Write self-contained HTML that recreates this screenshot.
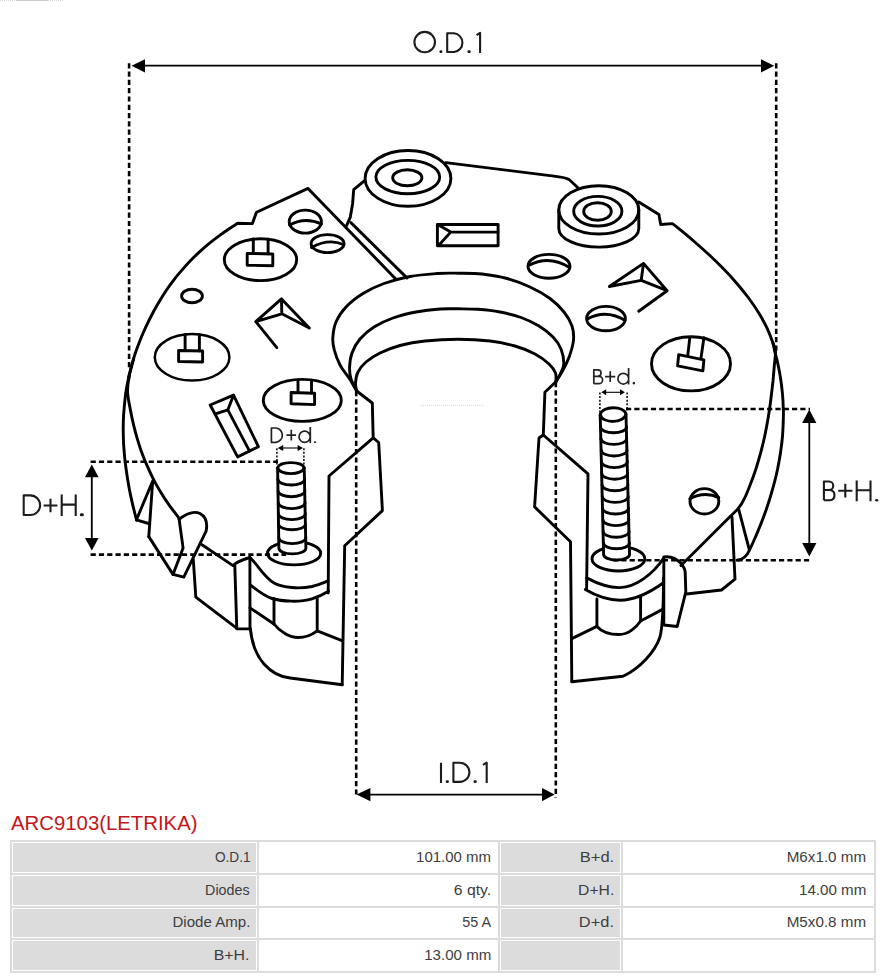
<!DOCTYPE html>
<html><head><meta charset="utf-8"><title>ARC9103(LETRIKA)</title>
<style>
html,body{margin:0;padding:0;background:#fff;}
body{width:890px;height:979px;position:relative;overflow:hidden;font-family:"Liberation Sans",sans-serif;}
svg.d{position:absolute;left:0;top:0;}
.t{position:absolute;left:11px;top:811px;margin:0;font-size:21px;font-weight:normal;color:#c3161c;line-height:24px;white-space:nowrap;transform-origin:0 0;transform:scaleX(0.9685);}
.tb{position:absolute;left:10px;top:840px;width:866px;height:133px;background:#dcdcdc;}
.c{position:absolute;box-sizing:border-box;border:1px solid #fff;}
.cl{background:#dcdcdc;}
.cv{background:#fff;}
.tx{position:absolute;font-size:14px;line-height:20px;height:20px;color:#3e3e3e;white-space:nowrap;transform-origin:100% 50%;}
.fx{position:absolute;left:0;top:0;width:64px;height:1px;background:repeating-linear-gradient(90deg,#d8d8d8 0 1px,#fff 1px 2px);}
.fx2{position:absolute;left:16px;top:0;width:32px;height:1px;background:#cfcac4;}
</style></head><body>
<div class="fx"></div><div class="fx2"></div>
<svg class="d" width="890" height="810" viewBox="0 0 890 810">
<g fill="none" stroke="#000" stroke-width="2.9" stroke-linejoin="round" stroke-linecap="round">
<polygon points="131.5,65.7 145,59.2 145,72.4" fill="#000" stroke="none"/>
<polygon points="774.2,65.7 761,59.2 761,72.4" fill="#000" stroke="none"/>
<polygon points="356.5,794.6 370.4,788 370.4,801.2" fill="#000" stroke="none"/>
<polygon points="554.6,794.6 542,788 542,801.2" fill="#000" stroke="none"/>
<polygon points="91.8,464.6 85,477.3 98.6,477.3" fill="#000" stroke="none"/>
<polygon points="91.8,550.6 85,537.9 98.6,537.9" fill="#000" stroke="none"/>
<polygon points="809.3,409.6 802.2,422.9 816.4,422.9" fill="#000" stroke="none"/>
<polygon points="809.3,556.4 802.2,543.1 816.4,543.1" fill="#000" stroke="none"/>
<polygon points="601.3,392.3 606.2,389.3 606.2,395.3" fill="#000" stroke="none"/>
<polygon points="624.9,392.3 620,389.3 620,395.3" fill="#000" stroke="none"/>
<polygon points="277.8,448 283.2,445 283.2,451" fill="#000" stroke="none"/>
<polygon points="303,448 297.6,445 297.6,451" fill="#000" stroke="none"/>
<path d="M128.6,380 C128.7,379.1 128.7,378 129.5,374.5 C130.3,371 132.1,363.8 133.5,359.1 C134.8,354.4 136.2,350.6 137.8,346.3 C139.4,342 141,337.9 142.9,333.5 C144.8,329.1 147.3,323.8 149.2,320 C151.1,316.2 152.5,313.5 154.1,310.5 C155.8,307.5 157.1,305.2 159,302 C160.9,298.8 163.4,294.8 165.7,291.3 C168.1,287.8 170.6,284.3 172.9,281.2 C175.2,278.1 176.5,276.3 179.5,272.9 C182.4,269.5 186.8,264.4 190.4,260.7 C194,257 197.6,253.6 200.9,250.6 C204.1,247.6 206.7,245.5 209.9,242.9 C213.1,240.3 216.8,237.5 220.1,235.1 C223.4,232.7 226.6,230.5 229.6,228.5 C232.5,226.5 236.4,224.2 237.7,223.3 L252.4,223.6 L256,213.4 L256.6,212.2 L308,188.4 L396.2,279.4"/>
<path d="M133.5,359.1 C132.8,361.7 130.4,370.2 129.3,374.5 C128.3,378.8 127.8,381.6 127.1,385 C126.5,388.4 126.1,390 125.5,395 C124.9,400 124,409.6 123.6,415.2 C123.2,420.8 123.2,424.2 123.2,428.7 C123.2,433.2 123.4,438.1 123.5,442 C123.7,445.9 123.8,447.9 124.2,452 C124.5,456.1 124.9,460.5 125.7,466.3 C126.5,472.1 127.8,480.7 128.9,486.8 C130,492.9 131.1,497.6 132.3,503.1 C133.6,508.6 135.8,517.1 136.5,519.9"/>
<path d="M129.4,374.5 C129.2,376.2 128.2,381.6 127.9,385 C127.6,388.4 127.3,390.5 127.8,395 C128.3,399.5 129.8,406.8 130.8,411.9 C131.7,416.9 132.6,420.8 133.7,425.3 C134.8,429.8 136,434.5 137.3,438.8 C138.6,443.1 139.9,447.2 141.2,451 C142.6,454.8 143.2,456.8 145.2,461.4 C147.2,466 150.5,473.4 153.1,478.6 C155.7,483.8 158.2,488 160.9,492.5 C163.6,497 166.4,501.2 169.5,505.6 C172.7,510 178.1,516.8 179.8,519"/>
<path d="M136.4,519.9 L152.7,481 L148.8,536.6"/>
<path d="M136.4,519.9 L148.6,523.5"/>
<path d="M148.8,536.6 L173,574.4 L183.8,577.1 L206.1,531.2 C207.5,524 206.5,517 200,513.5 C195,511 188,512.5 179.1,519.1"/>
<path d="M179.1,519.1 L183.1,548.1 L173,574.4"/>
<path d="M193.3,559.5 L195.8,597.1 L237.6,628.9 L250,628.9"/>
<path d="M202,544.7 L233,565.6 C235,563 240,560.5 249.9,557.5"/>
<path d="M234.8,565.6 L236.8,628.9"/>
<path d="M249.9,557.5 L250,628.9"/>
<path d="M249.9,557.5 C258,565 264,577 274,583 C283,588 300,589 312,586.5 C318,585 324,582.5 328,580.9"/>
<path d="M250.3,584.8 C258,591 264,596 272,598.5 C282,601.5 300,602.5 312,598.8 C319,596.5 324,594 328.5,591.2"/>
<path d="M250,607.9 L274,624"/>
<path d="M274,598.5 L274,624"/>
<path d="M317.2,598.5 L317.2,630.8"/>
<path d="M274,624 C280,632 290,637.5 298,637.5 C306,637.5 313,634 317.2,630.8"/>
<path d="M317.2,630.8 L342,640.6"/>
<path d="M250.3,628.5 C252,645 256,655 264,664 C271,672 280,677 290.2,678 L342.2,684.7"/>
<path d="M342.2,684.7 L344.7,545.8 L382.4,510.6 L378.7,442.5 L373.2,437.9 L372.3,403 L356.7,391"/>
<path d="M373.2,437.9 L329,476 L328.2,593"/>
<ellipse cx="294.1" cy="553.3" rx="26.6" ry="11.6"/>
<path fill="#fff" stroke="none" d="M277.6,467.6 L278.9,548.3 A13.5,5.6 0 0 0 305.9,548.3 L304.2,467.6 Z"/>
<path d="M277.6,467.6 L278.9,548.3 A13.5,5.6 0 0 0 305.9,548.3 L304.2,467.6"/>
<path d="M277.6,467.8 C279.5,460.9 302.3,460.9 304.2,467.8 C302.3,475.5 279.5,475.5 277.6,467.8"/>
<path d="M277.9,479.2 A13.3,5.8 0 0 0 304.6,479.2"/>
<path d="M278.1,491.4 A13.4,5.8 0 0 0 304.8,491.4"/>
<path d="M278.3,502.8 A13.4,5.8 0 0 0 305.1,502.8"/>
<path d="M278.4,513.8 A13.4,5.8 0 0 0 305.3,513.8"/>
<path d="M278.6,524.5 A13.5,5.8 0 0 0 305.5,524.5"/>
<path d="M278.8,537.8 A13.5,5.8 0 0 0 305.8,537.8"/>
<path d="M356.7,391 C355.4,388.8 351.8,382.3 349,378 C346.2,373.7 342.4,369.7 340,365 C337.6,360.3 335.5,354.5 334.3,350 C333.1,345.5 332.5,342.7 332.8,338 C333.1,333.3 333.8,327.2 336,322 C338.2,316.8 341.5,311.8 346,307 C350.5,302.2 356.7,297.4 363,293.5 C369.3,289.6 376.2,286.3 384,283.5 C391.8,280.7 401.2,278.2 410,276.5 C418.8,274.8 428.9,274.1 437,273.5 C445.1,272.9 450.9,273.1 458.4,273.2 C465.9,273.3 473.9,273.1 482,274 C490.1,274.9 499,276.3 507,278.5 C515,280.7 522.8,283.7 530,287 C537.2,290.3 544.3,294.3 550,298.5 C555.7,302.7 560.3,307.4 564,312 C567.7,316.6 570.4,321.3 572,326 C573.6,330.7 573.9,335 573.5,340 C573.1,345 571.2,351 569.5,356 C567.8,361 565.3,365.7 563,370 C560.7,374.3 557.1,379.8 555.9,381.7"/>
<path d="M356.7,391 C355.8,389 352.2,383 351,379 C349.8,375 349.4,371.3 349.6,367 C349.8,362.7 350.3,357.7 352,353 C353.7,348.3 356.3,343.3 360,339 C363.7,334.7 368.5,330.5 374,327 C379.5,323.5 386,320.5 393,318 C400,315.5 408.2,313.5 416,312 C423.8,310.5 433,309.5 440,309 C447,308.5 451.7,308.8 458,308.8 C464.3,308.9 471,308.8 478,309.3 C485,309.8 492.8,310.6 500,312 C507.2,313.4 514.5,315.2 521,317.5 C527.5,319.8 533.7,322.8 539,326 C544.3,329.2 549.3,333.2 553,337 C556.7,340.8 559.2,344.5 561,349 C562.8,353.5 563.9,359.7 563.8,363.8 C563.7,367.9 561.8,370.5 560.5,373.5 C559.2,376.5 556.7,380.3 555.9,381.7"/>
<path d="M356.7,391 C356.5,389.7 355.3,386.2 355.5,383 C355.7,379.8 356.2,375.5 358,372 C359.8,368.5 362.3,365.2 366,362 C369.7,358.8 374.3,355.8 380,353 C385.7,350.2 392.5,347.5 400,345.5 C407.5,343.5 415.3,342 425,341 C434.7,340 447.2,339.3 458,339.3 C468.8,339.3 480.5,339.9 490,341 C499.5,342.1 507.5,343.8 515,346 C522.5,348.2 529.3,351 535,354 C540.7,357 545.6,360.8 549,364 C552.4,367.2 554.4,370.1 555.5,373 C556.6,375.9 555.8,380.2 555.9,381.7"/>
<path d="M555.9,381.7 L544.9,392.3 L543.3,435 L539,438 L534.6,506.9 L570.5,541.8 L571.8,681.7"/>
<path d="M543.3,435 L588,473.9 L586.6,588.7"/>
<path d="M571.8,681.7 L623,676.3 C640,668 655,652 660,637 C663,625 663.5,600 663.5,577.9"/>
<path d="M586.6,577.9 C598,584 610,587.8 620,587.6 C636,587.3 653,574 663.8,558"/>
<path d="M585.3,589.6 C597,596.5 609,600.2 620,600.2 C637,600.2 652,591 663.8,582.5"/>
<path d="M596.9,598.9 L596.9,626.4"/>
<path d="M640.6,596.8 L640.6,621"/>
<path d="M596.9,626.4 C602,632 610,634.5 619,634.5 C628,634.5 636,628 640.6,621"/>
<path d="M640.6,621 L663.5,608.9"/>
<path d="M571.8,638.6 L596.9,626.4"/>
<path d="M663.8,625 L663.8,557 C668,556.4 675,557 681.1,563.6 C683,566 685,568.5 685.2,572 L685.8,591.9 L677.2,626.5 L663.8,625"/>
<path d="M686.4,594 L721.5,590 L735,579.2 L732,517.3"/>
<path d="M738.5,508.7 L749.3,549.7"/>
<ellipse cx="618.4" cy="558.8" rx="26.4" ry="12.2"/>
<path fill="#fff" stroke="none" d="M600.2,414.7 L603.6,554.4 A12.95,5.6 0 0 0 629.5,554.4 L626,414.7 Z"/>
<path d="M600.2,414.7 L603.6,554.4 A12.95,5.6 0 0 0 629.5,554.4 L626,414.7"/>
<path d="M600.2,414.6 C602,405.5 624.2,405.5 626,414 C624.2,423.8 602,423.8 600.2,414.6"/>
<path d="M600.6,427 A12.9,5.8 0 0 0 626.5,427"/>
<path d="M600.9,438.6 A12.9,5.8 0 0 0 626.7,438.6"/>
<path d="M601.2,450.2 A12.9,5.8 0 0 0 627,450.2"/>
<path d="M601.5,461.8 A12.9,5.8 0 0 0 627.3,461.8"/>
<path d="M601.8,473.4 A12.9,5.8 0 0 0 627.6,473.4"/>
<path d="M602.1,485 A12.9,5.8 0 0 0 627.9,485"/>
<path d="M602.3,496.6 A12.9,5.8 0 0 0 628.2,496.6"/>
<path d="M602.6,508.2 A12.9,5.8 0 0 0 628.5,508.2"/>
<path d="M602.9,519.8 A12.9,5.8 0 0 0 628.8,519.8"/>
<path d="M603.2,531.4 A12.9,5.8 0 0 0 629.1,531.4"/>
<path d="M603.5,543 A12.9,5.8 0 0 0 629.4,543"/>
<ellipse cx="408" cy="178.4" rx="42.9" ry="27.9"/>
<ellipse cx="407.8" cy="177.1" rx="31.9" ry="16.7"/>
<ellipse cx="407.3" cy="177.8" rx="14.6" ry="8"/>
<path d="M346.7,225.3 L350.3,217.2 L352.6,203.7 L353.7,189.7 L364.3,180.8"/>
<path d="M350.9,222.6 L406.9,277.9"/>
<path d="M445.8,162.6 L550,175.6 C560,176.8 566,177.5 569,179.5 C572,182 575,185 577.5,187.4"/>
<path d="M437.4,224.5 L498.1,224.5 L498.1,245.7 L437.4,245.7Z"/>
<path d="M439.5,225.5 L450.7,232.1 L439.5,244.5 M450.7,232.1 H498"/>
<ellipse cx="598.8" cy="209.9" rx="40" ry="24.1"/>
<ellipse cx="597.8" cy="211.2" rx="24.1" ry="14.8"/>
<ellipse cx="597.5" cy="211.5" rx="13.8" ry="8.7"/>
<path d="M558.8,209.9 V228.5 A40,18.6 0 0 0 638.8,228.5 V209.9"/>
<path d="M638.8,202 L658.9,214.6 L660.7,224.5 L672.4,223.6 C673.8,224.6 676.1,226.3 679.7,229.3 C683.3,232.3 689.4,237.3 694.2,241.5 C699,245.7 703.7,249.8 708.5,254.3 C713.4,258.8 718.4,263.7 723.2,268.6 C728,273.5 732.9,278.8 737.1,283.7 C741.3,288.6 745,293.1 748.6,298 C752.2,302.9 755.7,307.9 758.8,313 C761.9,318.1 764.9,323.7 767.3,328.7 C769.6,333.7 771.6,339.2 772.9,343 C774.1,346.8 774,348.5 774.7,351.4 C775.4,354.3 776.1,356.2 777.1,360.4 C778,364.6 779.5,371.4 780.3,376.8 C781.2,382.2 781.9,387.8 782.4,393.1 C782.9,398.4 783.2,404.2 783.3,408.7 C783.5,413.2 783.5,415.4 783.3,420 C783.2,424.6 782.9,430.9 782.5,436.3 C782,441.8 781.3,447.2 780.5,452.7 C779.7,458.1 778.6,463.8 777.6,469 C776.5,474.2 775.4,478.8 774.1,483.7 C772.8,488.6 771.2,494 769.9,498.4 C768.5,502.8 767.6,505.7 766,510.2 C764.4,514.7 762.2,520.7 760.3,525.4 C758.4,530.1 756.6,534.5 754.8,538.5 C753.1,542.5 750.6,547.8 749.7,549.7 C747,556 743,559.8 737,560.2"/>
<path d="M773,343 C773.4,344.4 775.2,347.8 775.5,351.4 C775.7,355 774.9,359.6 774.4,364.5 C774,369.4 773.5,375.4 773,380.9 C772.4,386.3 771.7,392.6 771.1,397.2 C770.6,401.8 770.1,404.9 769.6,408.7 C769,412.5 768.6,415.4 767.8,420 C767,424.6 765.8,430.9 764.7,436.3 C763.5,441.8 762.2,447.2 760.7,452.7 C759.2,458.1 757.6,463.8 755.9,469 C754.2,474.2 752.6,478.7 750.6,483.7 C748.7,488.7 746.1,495.1 744.1,499.2 C742.1,503.3 740.8,505.4 738.5,508.2 C736.2,511 731.8,514.9 730.4,516.3 L681,565.5"/>
<ellipse cx="305.3" cy="221.6" rx="16.1" ry="11.5"/>
<path d="M289.5,225 Q305.1,216.5 321.5,224"/>
<ellipse cx="327.6" cy="243.6" rx="16.5" ry="9"/>
<path d="M311.5,247.5 Q328.5,238 343.5,244.5"/>
<ellipse cx="549" cy="266.3" rx="21" ry="11.9"/>
<path d="M528.5,265.5 Q549,254.5 569.5,267.5"/>
<ellipse cx="606" cy="318.6" rx="19.4" ry="12.2"/>
<path d="M587.3,319 Q605.5,309 624.9,320.2"/>
<ellipse cx="704.4" cy="501.3" rx="14.4" ry="12.7"/>
<path d="M689.8,498.8 Q704.5,491 718.8,497.6"/>
<ellipse cx="192" cy="296" rx="10.4" ry="6.8"/>
<ellipse cx="260.5" cy="259.7" rx="36.2" ry="20.9"/>
<path d="M247.2,253.4 L272.8,254 L272.8,265.8 L247.2,265.2Z"/>
<path d="M253.3,239 L253.3,253.5 M268.1,239.2 L268.1,253.9"/>
<ellipse cx="192.1" cy="357.3" rx="37.3" ry="23.2" stroke-width="2.5"/>
<path d="M178.6,350.5 L202.6,351 L202.6,362 L178.6,361.5Z"/>
<path d="M185.1,334.6 L185.1,350.6 M199.4,334.8 L199.4,350.9"/>
<ellipse cx="302.3" cy="400.4" rx="39" ry="21"/>
<path d="M291.1,392.5 L314.6,393.3 L314.6,404.6 L291.1,403.8Z"/>
<path d="M298,380 L298,392.6 M311.5,380.2 L311.5,393.1"/>
<ellipse cx="691" cy="363.8" rx="39.5" ry="27.1"/>
<path d="M678.7,354.7 L703.9,359.8 L702.9,370.9 L677.6,365.8Z"/>
<path d="M687.8,355.2 L689.8,337.6 M700.9,358.6 L703.9,337.8"/>
<path d="M210.2,405 L233.5,395.2 L258.4,446.7 L237.6,456.9Z"/>
<path d="M216.3,413.6 L227.8,409.9 L233.5,395.2 M227.8,409.9 L249.4,450.9"/>
<path d="M255.8,321.7 L281.5,298.9 L309.3,328 M281.5,298.9 L281.8,313.8 M255.8,321.7 L281.8,313.8 L309.3,328 M255.8,321.7 L276.8,347.6"/>
<path d="M609.4,286.5 L643.5,263.4 L667.1,290.7 M643.5,263.4 L641.2,280.3 M609.4,286.5 L641.2,280.3 L667.1,290.7 M667.1,290.7 L638.7,311.2"/>
</g>
<g stroke="#000" stroke-linecap="butt">
<line x1="129.1" y1="63.2" x2="129.1" y2="368" stroke-width="2.6" stroke-dasharray="5.2 3.1" stroke-dashoffset="0"/>
<line x1="776.2" y1="63.2" x2="776.2" y2="351" stroke-width="2.6" stroke-dasharray="5.2 3.1" stroke-dashoffset="0"/>
<line x1="356.2" y1="391" x2="356.2" y2="797.5" stroke-width="2.6" stroke-dasharray="5.2 3.1" stroke-dashoffset="0"/>
<line x1="555.8" y1="382" x2="555.8" y2="797.5" stroke-width="2.6" stroke-dasharray="5.2 3.1" stroke-dashoffset="0"/>
<line x1="90.6" y1="461.8" x2="278" y2="461.8" stroke-width="2.6" stroke-dasharray="5.2 3.1" stroke-dashoffset="0"/>
<line x1="90.6" y1="554.6" x2="286" y2="554.6" stroke-width="2.6" stroke-dasharray="5.2 3.1" stroke-dashoffset="0"/>
<line x1="626" y1="409" x2="810" y2="409" stroke-width="2.6" stroke-dasharray="5.2 3.1" stroke-dashoffset="0"/>
<line x1="613" y1="560.2" x2="810" y2="560.2" stroke-width="2.6" stroke-dasharray="5.2 3.1" stroke-dashoffset="0"/>
<line x1="599.9" y1="392.5" x2="599.9" y2="413" stroke-width="1.5" stroke-dasharray="2 1.6" stroke-dashoffset="0"/>
<line x1="627.1" y1="392.5" x2="627.1" y2="411" stroke-width="1.5" stroke-dasharray="2 1.6" stroke-dashoffset="0"/>
<line x1="276.9" y1="448.2" x2="276.9" y2="466" stroke-width="1.5" stroke-dasharray="2 1.6" stroke-dashoffset="0"/>
<line x1="303.9" y1="448.2" x2="303.9" y2="466" stroke-width="1.5" stroke-dasharray="2 1.6" stroke-dashoffset="0"/>
<line x1="140" y1="65.7" x2="765" y2="65.7" stroke-width="1.8"/>
<line x1="365" y1="794.6" x2="547" y2="794.6" stroke-width="1.8"/>
<line x1="91.8" y1="472" x2="91.8" y2="543" stroke-width="1.8"/>
<line x1="809.3" y1="418" x2="809.3" y2="550" stroke-width="1.8"/>
<line x1="604" y1="392.3" x2="622" y2="392.3" stroke-width="1.1"/>
<line x1="281" y1="448" x2="300" y2="448" stroke-width="1.1"/>
</g>
<path d="M435,42.1 A10.3,10.2 0 1 1 414.4,42.1 A10.3,10.2 0 1 1 435,42.1 M447.2,33.3 H454 A9.4,9.4 0 0 1 454,52 H447.2 Z M476.6,35.2 L480.1,32.8 V53 M441,762.7 V782.9 M453.4,762.7 H459.8 A9.6,9.6 0 0 1 459.8,781.9 H453.4 Z M482.9,764.8 L486.7,762.7 V782.9 M23.7,495.4 H30.3 A9.8,9.8 0 0 1 30.3,515 H23.7 Z M43.6,505.5 H57.4 M50.5,498.7 V512.3 M61.7,494.4 V516 M75.7,494.4 V516 M61.7,504.6 H75.7 M823.9,500.3 V481.5 H829 A4.2,4.2 0 0 1 829,490 H823.9 M829,490 H830 A5.2,5.2 0 0 1 830,500.3 H823.9 M838.2,490.7 H852.4 M845.3,483.8 V497.6 M856.7,480.5 V501.3 M870.5,480.5 V501.3 M856.7,490.3 H870.5" fill="none" stroke="#1c1c1c" stroke-width="2.1" stroke-linejoin="round"/>
<path d="M593.8,383.7 V369.8 H597.8 A3.2,3.2 0 0 1 597.8,376.3 H593.8 M597.8,376.3 H598.9 A3.7,3.7 0 0 1 598.9,383.7 H593.8 M605.1,376.6 H615.3 M610.2,371.2 V382 M628.7,378.7 A5.4,5.4 0 1 1 617.9,378.7 A5.4,5.4 0 1 1 628.7,378.7 M628.6,368.1 V384.4 M271.4,428 H276 A7.2,7.2 0 0 1 276,442.3 H271.4 Z M286.5,435.1 H296.1 M291.3,429.8 V440.4 M310.2,436.8 A5.6,5.6 0 1 1 299,436.8 A5.6,5.6 0 1 1 310.2,436.8 M310.3,426.9 V443" fill="none" stroke="#222" stroke-width="1.7" stroke-linejoin="round"/>
<g fill="#1c1c1c"><rect x="439.5" y="50.3" width="2.9" height="2.8" rx="1.2"/>
<rect x="467.5" y="50.3" width="3.2" height="2.8" rx="1.2"/>
<rect x="445.7" y="780.2" width="3.2" height="2.7" rx="1.2"/>
<rect x="473.5" y="780.2" width="3.3" height="2.7" rx="1.2"/>
<rect x="79.9" y="513.3" width="3.9" height="3" rx="1.2"/>
<rect x="875.2" y="498.9" width="3.1" height="2.6" rx="1.2"/>
<rect x="632.7" y="381.8" width="2.3" height="2.6" rx="1.2"/>
<rect x="313.8" y="441.2" width="2.5" height="1.8" rx="1.2"/></g>
<line x1="421" y1="405.3" x2="484" y2="405.3" stroke="#d8d8d8" stroke-width="1" stroke-dasharray="1 1"/>
</svg>
<h1 class="t">ARC9103(LETRIKA)</h1>
<div class="tb"></div>
<div class="c cl" style="left:12px;top:842px;width:245px;height:31px"></div>
<span class="tx" style="right:639.60px;top:846.50px;transform:scaleX(0.9750)">O.D.1</span>
<div class="c cv" style="left:259px;top:842px;width:239px;height:31px"></div>
<span class="tx" style="right:399.00px;top:846.50px;transform:scaleX(1.0696)">101.00 mm</span>
<div class="c cl" style="left:500px;top:842px;width:121px;height:31px"></div>
<span class="tx" style="right:275.80px;top:846.50px;transform:scaleX(1.1821)">B+d.</span>
<div class="c cv" style="left:623px;top:842px;width:251px;height:31px"></div>
<span class="tx" style="right:23.60px;top:846.50px;transform:scaleX(1.0861)">M6x1.0 mm</span>
<div class="c cl" style="left:12px;top:875px;width:245px;height:31px"></div>
<span class="tx" style="right:640.60px;top:879.50px;transform:scaleX(1.0209)">Diodes</span>
<div class="c cv" style="left:259px;top:875px;width:239px;height:31px"></div>
<span class="tx" style="right:398.50px;top:879.50px;transform:scaleX(1.1258)">6 qty.</span>
<div class="c cl" style="left:500px;top:875px;width:121px;height:31px"></div>
<span class="tx" style="right:275.80px;top:879.50px;transform:scaleX(1.1226)">D+H.</span>
<div class="c cv" style="left:623px;top:875px;width:251px;height:31px"></div>
<span class="tx" style="right:23.60px;top:879.50px;transform:scaleX(1.0803)">14.00 mm</span>
<div class="c cl" style="left:12px;top:908px;width:245px;height:30px"></div>
<span class="tx" style="right:640.10px;top:912.10px;transform:scaleX(1.0761)">Diode Amp.</span>
<div class="c cv" style="left:259px;top:908px;width:239px;height:30px"></div>
<span class="tx" style="right:398.50px;top:912.10px;transform:scaleX(1.0286)">55 A</span>
<div class="c cl" style="left:500px;top:908px;width:121px;height:30px"></div>
<span class="tx" style="right:275.80px;top:912.10px;transform:scaleX(1.1714)">D+d.</span>
<div class="c cv" style="left:623px;top:908px;width:251px;height:30px"></div>
<span class="tx" style="right:23.60px;top:912.10px;transform:scaleX(1.0861)">M5x0.8 mm</span>
<div class="c cl" style="left:12px;top:940px;width:245px;height:31px"></div>
<span class="tx" style="right:640.30px;top:944.70px;transform:scaleX(1.1367)">B+H.</span>
<div class="c cv" style="left:259px;top:940px;width:239px;height:31px"></div>
<span class="tx" style="right:399.00px;top:944.70px;transform:scaleX(1.0770)">13.00 mm</span>
<div class="c cl" style="left:500px;top:940px;width:121px;height:31px"></div>
<div class="c cv" style="left:623px;top:940px;width:251px;height:31px"></div>
</body></html>
